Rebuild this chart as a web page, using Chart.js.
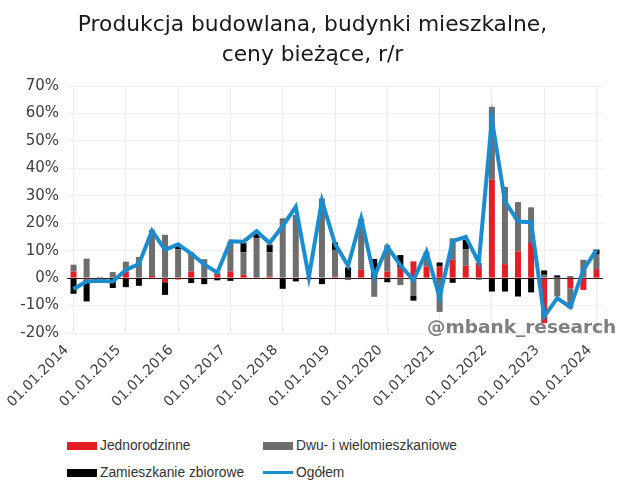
<!DOCTYPE html>
<html>
<head>
<meta charset="utf-8">
<script src="https://cdn.jsdelivr.net/npm/chart.js@4"></script>
<style>
  body { margin: 0; background: #fff; }
  #wrap { position: relative; width: 630px; height: 485px; }
  #watermark { position: absolute; left: 427px; top: 316px; font: bold 18.5px "DejaVu Sans", sans-serif; color: #7f7f7f; }
  #legend { position: absolute; left: 67px; top: 437px; display: grid; grid-template-columns: 196px 240px; row-gap: 10px;
            font: 13.8px "Liberation Sans", sans-serif; color: #333; }
  #legend div { display: flex; align-items: center; height: 17px; }
  #legend span.box { display: inline-block; width: 30px; margin-right: 3px; }
</style>
</head>
<body>
<div id="wrap">
  <canvas id="myChart" width="630" height="425"></canvas>
  <div id="watermark">@mbank_research</div>
  <div id="legend"></div>
</div>
<script>
var quarters = [
  "01.01.2014","01.04.2014","01.07.2014","01.10.2014",
  "01.01.2015","01.04.2015","01.07.2015","01.10.2015",
  "01.01.2016","01.04.2016","01.07.2016","01.10.2016",
  "01.01.2017","01.04.2017","01.07.2017","01.10.2017",
  "01.01.2018","01.04.2018","01.07.2018","01.10.2018",
  "01.01.2019","01.04.2019","01.07.2019","01.10.2019",
  "01.01.2020","01.04.2020","01.07.2020","01.10.2020",
  "01.01.2021","01.04.2021","01.07.2021","01.10.2021",
  "01.01.2022","01.04.2022","01.07.2022","01.10.2022",
  "01.01.2023","01.04.2023","01.07.2023","01.10.2023",
  "01.01.2024"
];

// contributions, % r/r
var jednorodzinne = [2.4, -0.5, -0.5, 0, 2.4, 0, 0.8, -1.5, -0.5, 2.4, 0, 1.6, 2.4, 1.2, 0, 0.6,
  0, 0, 0, 0, 0.6, 0, 3.0, 0, 2.4, 4.0, 6.1, 4.2, 4.2, 6.7, 4.5, 5.5,
  35.9, 5.1, 9.7, 12.8, -16.4, 0, -3.7, -4.3, 3.3];
var wielomieszkaniowe = [2.5, 7.1, 0.4, 2.2, 3.6, 7.7, 16.8, 15.8, 10.5, 7.0, 6.9, 0.5, 11.0, 8.2, 14.6, 8.8,
  21.8, 23.0, 0.5, 29.0, 9.7, -0.7, 18.7, -6.8, 9.6, -2.5, -6.5, 5.4, -12.3, 7.8, 6.1, -0.6,
  26.5, 28.1, 18.0, 13.0, 1.2, -6.7, -7.3, 6.7, 5.5];
var zbiorowe = [-5.7, -8.0, -0.6, -3.6, -3.3, -2.8, 0, -4.6, 1.5, -1.8, -2.2, -0.8, -1.0, 3.4, 1.8, 2.8,
  -3.9, -1.2, -0.4, -2.2, 2.7, 3.9, 0, 7.0, -1.5, 4.4, -1.7, 0, 1.5, -1.7, 3.4, 0,
  -4.9, -4.9, -6.7, -5.2, 1.6, 1.0, 0.6, 0, 1.6];
var ogolem = [-4.0, -1.2, -1.0, -1.2, 3.0, 5.1, 17.3, 10.3, 12.3, 8.9, 5.0, 2.0, 13.4, 13.3, 17.1, 12.8,
  19.0, 26.0, 0.4, 28.3, 12.5, 4.5, 21.7, 0.5, 11.5, 4.7, -0.7, 9.6, -7.0, 13.5, 15.0, 5.7,
  57.8, 28.0, 20.6, 20.4, -14.0, -7.3, -10.6, 3.0, 10.3];

var yTicks = [-20, -10, 0, 10, 20, 30, 40, 50, 60, 70];

var tickFont = { family: 'DejaVu Sans', size: 15 };

var config = {
  type: 'bar',
  data: {
    labels: quarters,
    datasets: [
      { label: 'Jednorodzinne', data: jednorodzinne, backgroundColor: '#e31e24', stack: 's', order: 1 },
      { label: 'Dwu- i wielomieszkaniowe', data: wielomieszkaniowe, backgroundColor: '#6e6e6e', stack: 's', order: 1 },
      { label: 'Zamieszkanie zbiorowe', data: zbiorowe, backgroundColor: '#000000', stack: 's', order: 1 },
      { label: 'Ogółem', data: ogolem, type: 'line', borderColor: '#1a8dd0', backgroundColor: '#1a8dd0',
        borderWidth: 4, pointRadius: 0, tension: 0, order: 0 }
    ]
  },
  options: {
    responsive: false,
    animation: false,
    // left/right padding balanced so the title sits in the middle of the page
    layout: { padding: { left: 11, right: 16, top: 0, bottom: 0 } },
    datasets: { bar: { categoryPercentage: 1, barPercentage: 0.46 } },
    plugins: {
      legend: { display: false },
      tooltip: { enabled: false },
      title: {
        display: true,
        text: ['Produkcja budowlana, budynki mieszkalne,', 'ceny bieżące, r/r'],
        color: '#1a1a1a',
        font: { family: 'DejaVu Sans', size: 21.8, weight: 'normal', lineHeight: 1.4 },
        padding: { top: 10, bottom: 15 }
      }
    },
    scales: {
      x: {
        stacked: true,
        grid: {
          offset: false,
          drawTicks: false,
          color: function (c) { return c.index % 4 === 0 ? '#ececec' : 'rgba(0,0,0,0)'; }
        },
        border: { display: false },
        ticks: {
          autoSkip: false, minRotation: 45, maxRotation: 45, padding: 9, labelOffset: -7,
          color: '#404040', font: { family: 'DejaVu Sans', size: 14 },
          callback: function (v, i) { return i % 4 === 0 ? quarters[i] : ''; }
        },
        afterFit: function (s) { s.height = 92; }
      },
      y: {
        stacked: true,
        min: -20, max: 70,
        afterBuildTicks: function (s) { s.ticks = yTicks.map(function (v) { return { value: v }; }); },
        grid: {
          drawTicks: false,
          color: function (c) { return c.tick && c.tick.value === 0 ? '#3a1a1a' : '#efefef'; }
        },
        border: { display: false },
        ticks: { padding: 8, color: '#404040', font: tickFont, callback: function (v) { return v + '%'; } },
        afterFit: function (s) { s.width = 56; }
      },
      yRight: {
        position: 'right',
        min: -20, max: 70,
        grid: { display: false, drawTicks: false },
        border: { display: false },
        ticks: { display: false },
        afterFit: function (s) { s.width = 11; }
      }
    }
  }
};

var ctx = document.getElementById('myChart').getContext('2d');
var myChart = new Chart(ctx, config);

// legend in two columns, like the original
var leg = document.getElementById('legend');
[0, 1, 2, 3].forEach(function (i) {
  var ds = myChart.data.datasets[i];
  var item = document.createElement('div');
  var box = document.createElement('span');
  box.className = 'box';
  box.style.background = ds.type === 'line' ? ds.borderColor : ds.backgroundColor;
  box.style.height = ds.type === 'line' ? '3px' : '8px';
  item.appendChild(box);
  item.appendChild(document.createTextNode(ds.label));
  leg.appendChild(item);
});
</script>
</body>
</html>
